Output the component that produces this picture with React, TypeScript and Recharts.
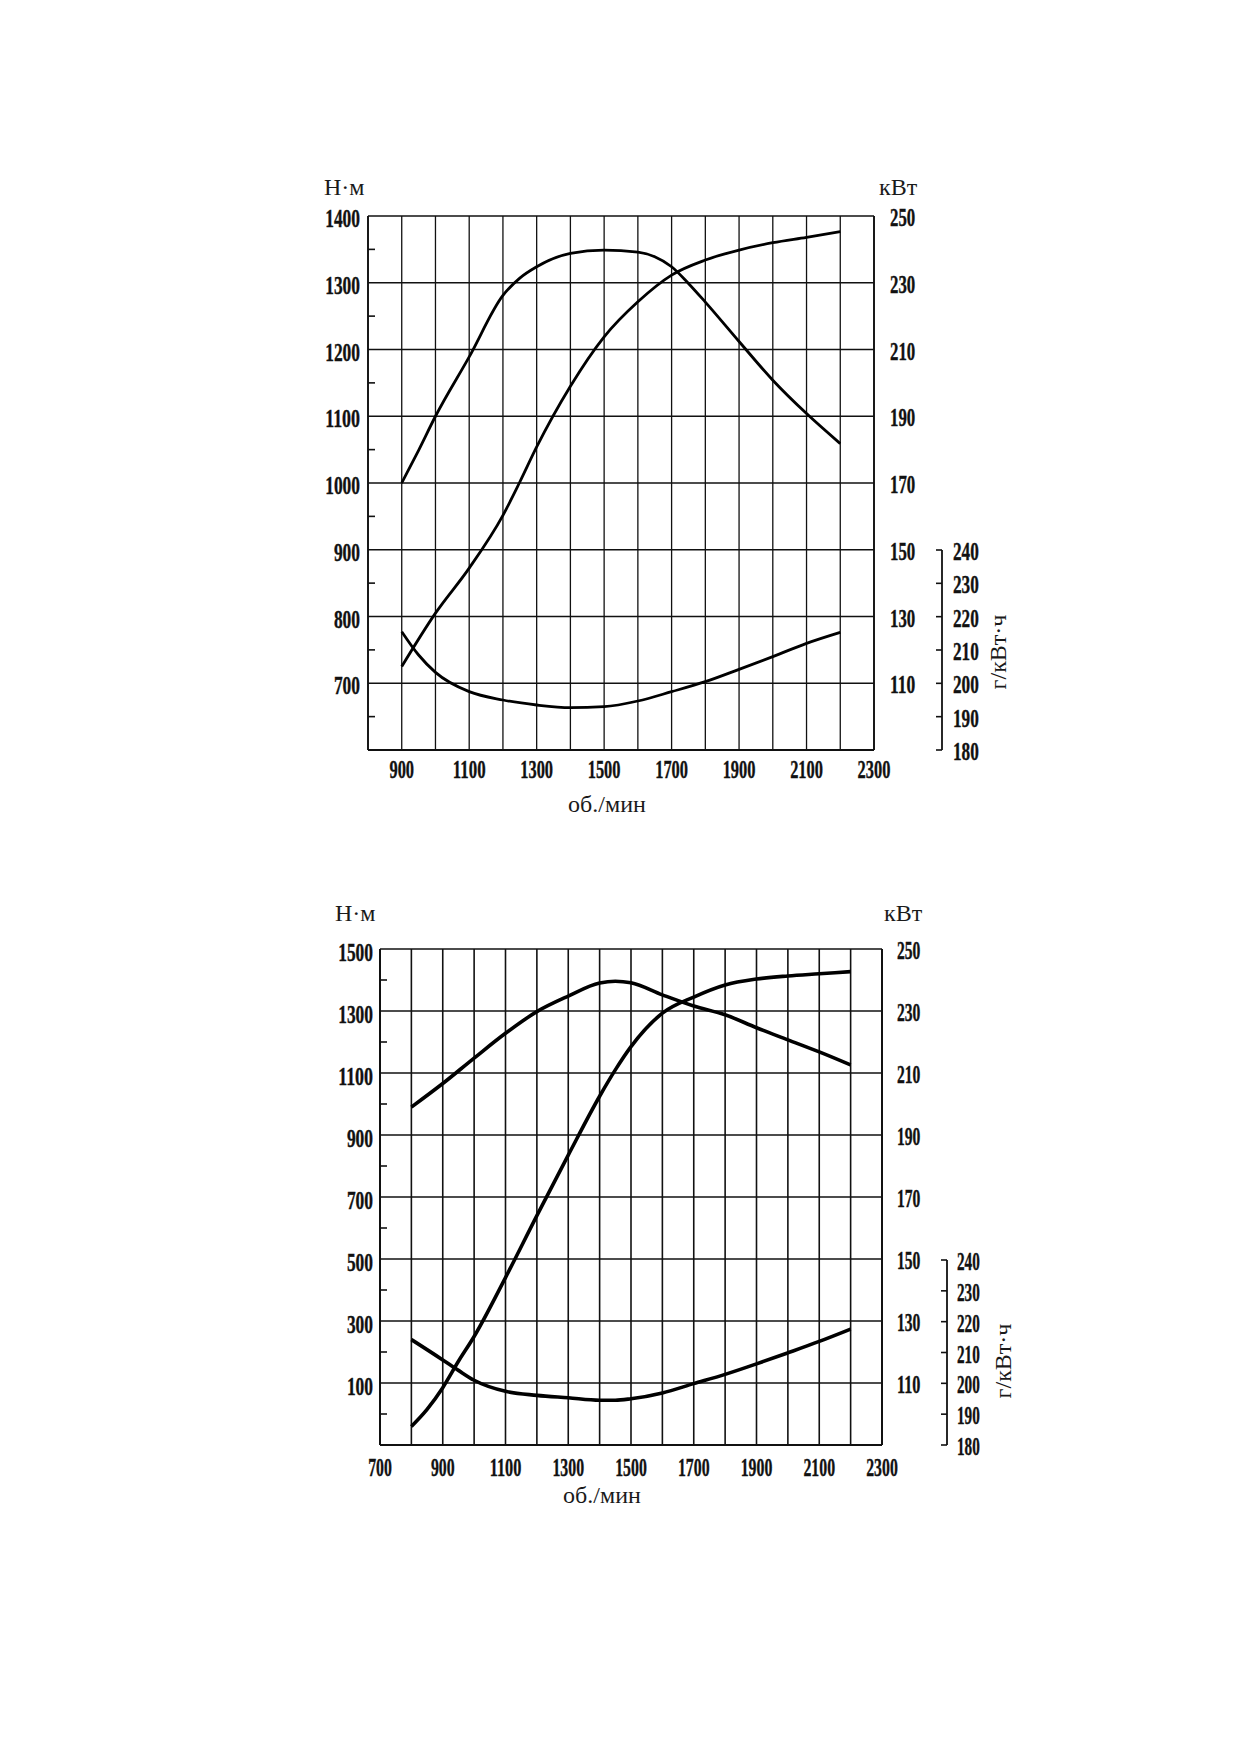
import React from 'react';
import { LineChart, Line, XAxis, YAxis, CartesianGrid } from 'recharts';

// ---------- Panel 1 (upper chart) ----------
const rpmTicks1 = [800, 900, 1000, 1100, 1200, 1300, 1400, 1500, 1600, 1700, 1800, 1900, 2000, 2100, 2200, 2300];
const rpmLabels1 = [900, 1100, 1300, 1500, 1700, 1900, 2100, 2300];
const nmTicks1 = [650, 700, 750, 800, 850, 900, 950, 1000, 1050, 1100, 1150, 1200, 1250, 1300, 1350, 1400];
const nmLabels1 = [700, 800, 900, 1000, 1100, 1200, 1300, 1400];

const torque1Rpm = [900, 950, 1000, 1100, 1200, 1250, 1300, 1400, 1500, 1600, 1650, 1700, 1750, 1800, 1900, 2000, 2100, 2200];
const torque1Nm = [1000, 1049, 1100, 1189, 1281, 1307, 1324, 1344, 1349, 1346, 1339, 1324, 1299, 1271, 1212, 1154, 1104, 1059];

const power1Rpm = [900, 1000, 1100, 1200, 1250, 1300, 1400, 1500, 1600, 1700, 1800, 1900, 2000, 2100, 2200];
const power1Kw = [115, 131, 144.5, 160.3, 170.3, 180.8, 199, 213.8, 224.3, 232.3, 236.8, 239.8, 242, 243.6, 245.3];

const bsfc1Rpm = [900, 950, 1000, 1100, 1200, 1300, 1400, 1500, 1600, 1700, 1800, 1900, 2000, 2100, 2200];
const bsfc1G = [215.5, 208.5, 203.3, 197.5, 195, 193.5, 192.7, 193, 194.7, 197.5, 200.5, 204.2, 208, 212, 215.3];

// ---------- Panel 2 (lower chart) ----------
const rpmTicks2 = [700, 800, 900, 1000, 1100, 1200, 1300, 1400, 1500, 1600, 1700, 1800, 1900, 2000, 2100, 2200, 2300];
const rpmLabels2 = [700, 900, 1100, 1300, 1500, 1700, 1900, 2100, 2300];
const nmTicks2 = [0, 100, 200, 300, 400, 500, 600, 700, 800, 900, 1000, 1100, 1200, 1300, 1400, 1500];
const nmLabels2 = [100, 300, 500, 700, 900, 1100, 1300, 1500];

const torque2Rpm = [800, 900, 1000, 1100, 1200, 1300, 1400, 1450, 1500, 1600, 1700, 1800, 1900, 2000, 2100, 2200];
const torque2Nm = [990, 1066, 1148, 1228, 1298, 1348, 1390, 1396, 1391, 1352, 1316, 1288, 1246, 1207, 1168, 1126];

const power2Rpm = [800, 850, 900, 950, 1000, 1100, 1200, 1300, 1400, 1450, 1500, 1600, 1700, 1800, 1900, 2000, 2100, 2200];
const power2Kw = [96, 101.5, 108.5, 117, 125, 144, 164, 183.5, 202.5, 211, 218.5, 229.3, 234.5, 238.4, 240.3, 241.3, 242, 242.7];

const bsfc2Rpm = [800, 900, 950, 1000, 1100, 1200, 1300, 1400, 1450, 1500, 1600, 1700, 1800, 1900, 2000, 2100, 2200];
const bsfc2G = [214.2, 207.6, 204.2, 201, 197.4, 196.1, 195.3, 194.5, 194.5, 195, 196.9, 199.9, 202.9, 206.3, 209.9, 213.6, 217.6];

// ---------- shared axes ----------
const kwTicks = [90, 110, 130, 150, 170, 190, 210, 230, 250];
const kwLabels = [110, 130, 150, 170, 190, 210, 230, 250];
const gTicks = [180, 190, 200, 210, 220, 230, 240];

type Pt = { rpm: number; v: number };
const zip = (xs: number[], ys: number[]): Pt[] => xs.map((rpm, i) => ({ rpm, v: ys[i] }));

const NUM_FONT = "'Liberation Serif', 'Times New Roman', serif";
const TXT_FONT = "'Liberation Serif', 'Times New Roman', serif";
const INK = '#111';
const W = 1239;

function Num(props: { x: number; y: number; text: string; anchor: 'start' | 'middle' | 'end'; w: number }) {
  const { x, y, text, anchor, w } = props;
  return (
    <text
      x={x}
      y={y}
      textAnchor={anchor}
      fontFamily={NUM_FONT}
      fontWeight={700}
      fontSize={26}
      textLength={text.length * w}
      lengthAdjust="spacingAndGlyphs"
      fill={INK}
      stroke={INK}
      strokeWidth={0.4}
    >
      {text}
    </text>
  );
}

type Cfg = {
  svgTop: number;
  height: number;
  plotLeft: number;
  plotRight: number;
  plotTop: number;
  plotBottom: number;
  gTop: number;
  kwW: number;
  xDomain: [number, number];
  xTicks: number[];
  xLabels: number[];
  nmDomain: [number, number];
  nmTicks: number[];
  nmLabels: number[];
  torque: Pt[];
  power: Pt[];
  bsfc: Pt[];
  lineW: number;
  gridW: number;
  borderW: number;
  lblLeft: { dx: number; dy: number; w: number };
  lblRight: { dx: number; dy: number; w: number };
  lblG: { dx: number; dy: number; w: number };
  lblX: { dy: number; w: number };
};

function Panel({ c }: { c: Cfg }) {
  const mainMargin = {
    top: c.plotTop - c.svgTop,
    left: c.plotLeft - 60,
    right: W - c.plotRight - c.kwW,
    bottom: c.svgTop + c.height - c.plotBottom - 60,
  };
  const overMargin = {
    top: c.gTop - c.svgTop,
    left: c.plotLeft,
    right: W - c.plotRight - c.kwW - 60,
    bottom: c.svgTop + c.height - c.plotBottom,
  };

  const xTick = (p: any) => {
    const v = p.payload.value;
    if (!c.xLabels.includes(v)) return <g />;
    return <Num x={p.x} y={p.y + c.lblX.dy} text={String(v)} anchor="middle" w={c.lblX.w} />;
  };
  const leftTick = (p: any) => {
    const v = p.payload.value;
    if (c.nmLabels.includes(v)) {
      return <Num x={p.x - c.lblLeft.dx} y={p.y + c.lblLeft.dy} text={String(v)} anchor="end" w={c.lblLeft.w} />;
    }
    return <line x1={p.x} x2={p.x + 7} y1={p.y} y2={p.y} stroke={INK} strokeWidth={1.6} />;
  };
  const rightTick = (p: any) => {
    const v = p.payload.value;
    if (!kwLabels.includes(v)) return <g />;
    return <Num x={p.x + c.lblRight.dx} y={p.y + c.lblRight.dy} text={String(v)} anchor="start" w={c.lblRight.w} />;
  };
  const gTick = (p: any) => {
    const v = p.payload.value;
    return (
      <g>
        <line x1={p.x - 6} x2={p.x} y1={p.y} y2={p.y} stroke={INK} strokeWidth={1.6} />
        <Num x={p.x + c.lblG.dx} y={p.y + c.lblG.dy} text={String(v)} anchor="start" w={c.lblG.w} />
      </g>
    );
  };

  const axisLine = { stroke: INK, strokeWidth: c.borderW };

  return (
    <>
      <div style={{ position: 'absolute', left: 0, top: c.svgTop }}>
        <LineChart width={W} height={c.height} margin={mainMargin}>
          <CartesianGrid stroke={INK} strokeWidth={c.gridW} fill="none" />
          <XAxis
            type="number"
            dataKey="rpm"
            domain={c.xDomain}
            ticks={c.xTicks}
            interval={0}
            tickSize={0}
            tickMargin={0}
            tickLine={false}
            axisLine={axisLine}
            height={60}
            tick={xTick}
          />
          <YAxis
            yAxisId="nm"
            orientation="left"
            type="number"
            width={60}
            domain={c.nmDomain}
            ticks={c.nmTicks}
            interval={0}
            tickSize={0}
            tickMargin={0}
            tickLine={false}
            axisLine={axisLine}
            tick={leftTick}
          />
          <YAxis
            orientation="right"
            type="number"
            width={c.kwW}
            domain={[90, 250]}
            ticks={kwTicks}
            interval={0}
            tickSize={0}
            tickMargin={0}
            tickLine={false}
            axisLine={axisLine}
            tick={rightTick}
          />
          <Line
            yAxisId="nm"
            data={c.torque}
            dataKey="v"
            type="monotone"
            stroke="#000"
            strokeWidth={c.lineW}
            dot={false}
            isAnimationActive={false}
          />
          <Line
            data={c.power}
            dataKey="v"
            type="monotone"
            stroke="#000"
            strokeWidth={c.lineW}
            dot={false}
            isAnimationActive={false}
          />
        </LineChart>
      </div>
      <div style={{ position: 'absolute', left: 0, top: c.svgTop }}>
        <LineChart width={W} height={c.height} margin={overMargin}>
          <XAxis type="number" dataKey="rpm" domain={c.xDomain} hide />
          <YAxis
            yAxisId="b1"
            orientation="right"
            type="number"
            width={60}
            domain={[180, 240]}
            ticks={gTicks}
            interval={0}
            tickSize={0}
            tickMargin={0}
            tickLine={false}
            axisLine={{ stroke: INK, strokeWidth: 1.8 }}
            tick={gTick}
          />
          <YAxis
            yAxisId="a0"
            orientation="right"
            width={c.kwW}
            domain={[0, 1]}
            tick={false}
            tickLine={false}
            axisLine={false}
          />
          <Line
            yAxisId="b1"
            data={c.bsfc}
            dataKey="v"
            type="monotone"
            stroke="#000"
            strokeWidth={c.lineW}
            dot={false}
            isAnimationActive={false}
          />
        </LineChart>
      </div>
    </>
  );
}

const cfg1: Cfg = {
  svgTop: 0,
  height: 840,
  plotLeft: 368,
  plotRight: 874,
  plotTop: 216,
  plotBottom: 750,
  gTop: 550,
  kwW: 68,
  xDomain: [800, 2300],
  xTicks: rpmTicks1,
  xLabels: rpmLabels1,
  nmDomain: [600, 1400],
  nmTicks: nmTicks1,
  nmLabels: nmLabels1,
  torque: zip(torque1Rpm, torque1Nm),
  power: zip(power1Rpm, power1Kw),
  bsfc: zip(bsfc1Rpm, bsfc1G),
  lineW: 2.8,
  gridW: 1.3,
  borderW: 1.8,
  lblLeft: { dx: 8, dy: 11, w: 8.7 },
  lblRight: { dx: 16, dy: 10, w: 8.4 },
  lblG: { dx: 11, dy: 10, w: 8.6 },
  lblX: { dy: 28, w: 8.2 },
};

const cfg2: Cfg = {
  svgTop: 860,
  height: 680,
  plotLeft: 380,
  plotRight: 882,
  plotTop: 949,
  plotBottom: 1445,
  gTop: 1260,
  kwW: 65,
  xDomain: [700, 2300],
  xTicks: rpmTicks2,
  xLabels: rpmLabels2,
  nmDomain: [-100, 1500],
  nmTicks: nmTicks2,
  nmLabels: nmLabels2,
  torque: zip(torque2Rpm, torque2Nm),
  power: zip(power2Rpm, power2Kw),
  bsfc: zip(bsfc2Rpm, bsfc2G),
  lineW: 3.6,
  gridW: 1.6,
  borderW: 2,
  lblLeft: { dx: 7, dy: 12, w: 8.7 },
  lblRight: { dx: 15, dy: 10, w: 7.8 },
  lblG: { dx: 10, dy: 10, w: 7.6 },
  lblX: { dy: 31, w: 7.9 },
};

function Titles() {
  const t = (x: number, y: number, s: string, anchor: 'start' | 'middle' = 'start', rot = false) => (
    <text
      x={x}
      y={y}
      textAnchor={anchor}
      fontFamily={TXT_FONT}
      fontSize={24}
      fill="#1a1a1a"
      transform={rot ? `rotate(-90 ${x} ${y})` : undefined}
    >
      {s}
    </text>
  );
  return (
    <svg
      width={W}
      height={1752}
      style={{ position: 'absolute', left: 0, top: 0, pointerEvents: 'none' }}
    >
      {t(324, 195, 'Н·м')}
      {t(879, 195, 'кВт')}
      {t(607, 812, 'об./мин', 'middle')}
      {t(1006, 652, 'г/кВт·ч', 'middle', true)}
      {t(335, 921, 'Н·м')}
      {t(884, 921, 'кВт')}
      {t(602, 1503, 'об./мин', 'middle')}
      {t(1011, 1361, 'г/кВт·ч', 'middle', true)}
    </svg>
  );
}

export default function App() {
  return (
    <div style={{ position: 'absolute', left: 0, top: 0, width: W, height: 1752, background: '#fff' }}>
      <Panel c={cfg1} />
      <Panel c={cfg2} />
      <Titles />
    </div>
  );
}
